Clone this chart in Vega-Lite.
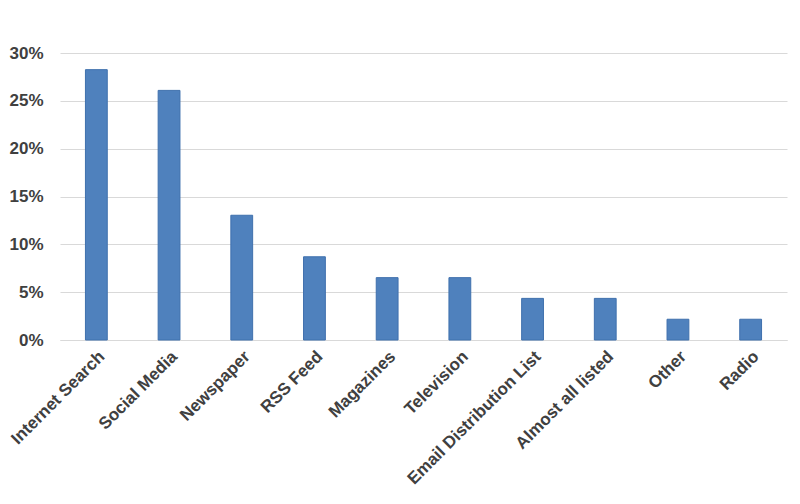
{
  "$schema": "https://vega.github.io/schema/vega-lite/v6.json",
  "autosize": {"type": "none"},
  "padding": {"left": 60, "top": 53, "right": 13, "bottom": 164},
  "width": 727,
  "height": 287,
  "background": "white",
  "config": {"view": {"stroke": null}},
  "data": {"values": [
    {"source": "Internet Search", "share": 0.2826},
    {"source": "Social Media", "share": 0.2609},
    {"source": "Newspaper", "share": 0.1304},
    {"source": "RSS Feed", "share": 0.0870},
    {"source": "Magazines", "share": 0.0652},
    {"source": "Television", "share": 0.0652},
    {"source": "Email Distribution List", "share": 0.0435},
    {"source": "Almost all listed", "share": 0.0435},
    {"source": "Other", "share": 0.0217},
    {"source": "Radio", "share": 0.0217}
  ]},
  "mark": {"type": "bar", "color": "#4F81BD", "stroke": "#3F70AD", "strokeWidth": 1},
  "encoding": {
    "x": {
      "field": "source", "type": "nominal", "sort": null,
      "scale": {"paddingInner": 0.7, "paddingOuter": 0.35},
      "axis": {
        "title": null, "labelAngle": -45, "labelFont": "Liberation Sans", "labelFontSize": 17,
        "labelFontWeight": "bold", "labelColor": "#404040", "ticks": false, "labelPadding": 8,
        "domainColor": "#D9D9D9", "domainWidth": 1, "labelLimit": 300
      }
    },
    "y": {
      "field": "share", "type": "quantitative",
      "scale": {"domain": [0, 0.3], "nice": false},
      "axis": {
        "title": null, "format": ".0%", "values": [0, 0.05, 0.1, 0.15, 0.2, 0.25, 0.3],
        "labelFont": "Liberation Sans", "labelFontSize": 17, "labelFontWeight": "bold",
        "labelColor": "#404040", "ticks": false, "domain": false, "labelPadding": 17,
        "gridColor": "#D9D9D9", "gridWidth": 1
      }
    }
  }
}
